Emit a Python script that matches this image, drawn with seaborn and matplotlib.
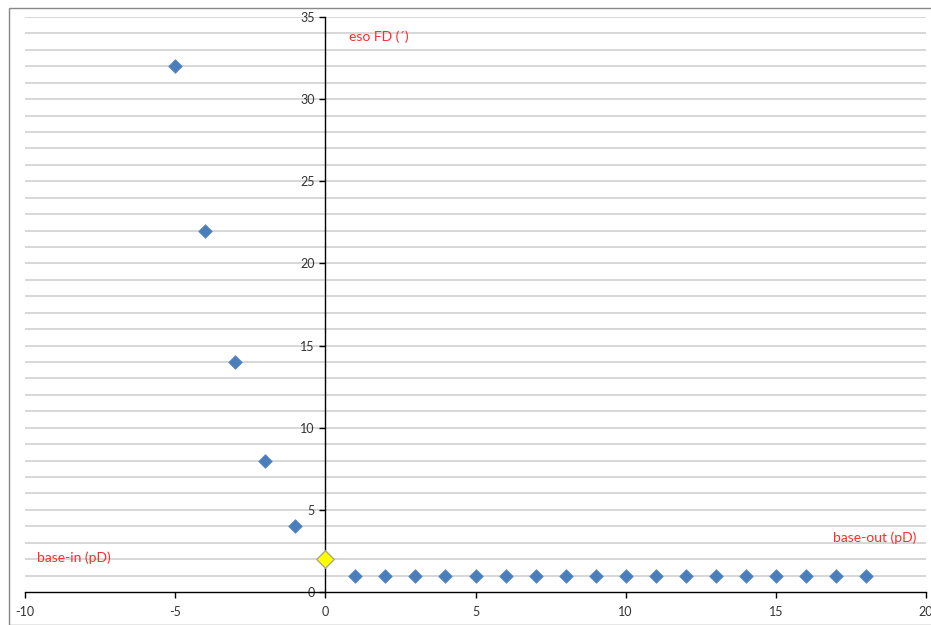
import matplotlib
matplotlib.use('Agg')
import matplotlib.pyplot as plt
import seaborn as sns
import pandas as pd

# measured points (base-in negative, base-out positive)
prism = [-5, -4, -3, -2, -1, 1, 2, 3, 4, 5, 6, 7, 8, 9, 10, 11, 12, 13, 14, 15, 16, 17, 18]
eso_fd = [32, 22, 14, 8, 4, 1, 1, 1, 1, 1, 1, 1, 1, 1, 1, 1, 1, 1, 1, 1, 1, 1, 1]
# baseline point at zero prism
base_x = [0]
base_y = [2]

xticks = [-10, -5, 0, 5, 10, 15, 20]
yticks = [0, 5, 10, 15, 20, 25, 30, 35]

df = pd.DataFrame({'prism': prism, 'eso': eso_fd})
df0 = pd.DataFrame({'prism': base_x, 'eso': base_y})

sns.set_style('white')
plt.rcParams['font.family'] = ['Lato', 'DejaVu Sans']
plt.rcParams['axes.unicode_minus'] = False

fig = plt.figure(figsize=(9.31, 6.25), dpi=100)
ax = fig.add_axes([25 / 931, 33 / 625, 901 / 931, 575 / 625])

# light horizontal grid at every unit
for yy in range(1, 36):
    ax.axhline(yy, color='#d4d4d4', lw=1.3, zorder=0)

sns.scatterplot(data=df, x='prism', y='eso', marker='D', s=48, color='#4a7ebb',
                edgecolor='#5b8ccc', linewidth=0.6, ax=ax, zorder=3)
sns.scatterplot(data=df0, x='prism', y='eso', marker='D', s=80, color='#ffff00',
                edgecolor='#a9a98a', linewidth=1.0, ax=ax, zorder=3)

ax.set_xlim(-10, 20)
ax.set_ylim(0, 35)
ax.set_xticks(xticks)
ax.set_yticks(yticks)
ax.set_xlabel('')
ax.set_ylabel('')

ax.spines['left'].set_position(('data', 0))
ax.spines['right'].set_visible(False)
ax.spines['top'].set_visible(False)
for s in ['left', 'bottom']:
    ax.spines[s].set_color('black')
    ax.spines[s].set_linewidth(1.0)
ax.tick_params(axis='both', direction='out', length=4, width=1, color='black',
               labelsize=9, labelcolor='#333333', bottom=True, left=True)
ax.tick_params(axis='x', pad=6)

ax.text(0.8, 33.8, 'eso FD (´)', color='#ff2a2a', fontsize=10, va='center', ha='left')
ax.text(-9.6, 2.1, 'base-in (pD)', color='#ff2a2a', fontsize=10, va='center', ha='left')
ax.text(16.9, 3.3, 'base-out (pD)', color='#ff2a2a', fontsize=10, va='center', ha='left')

# outer chart frame
fig.patches.append(plt.Rectangle((9 / 931, 0), 1, 1 - 8 / 625, transform=fig.transFigure,
                                 fill=False, edgecolor='#888888', lw=1.0))

fig.savefig('out.png', dpi=100)
